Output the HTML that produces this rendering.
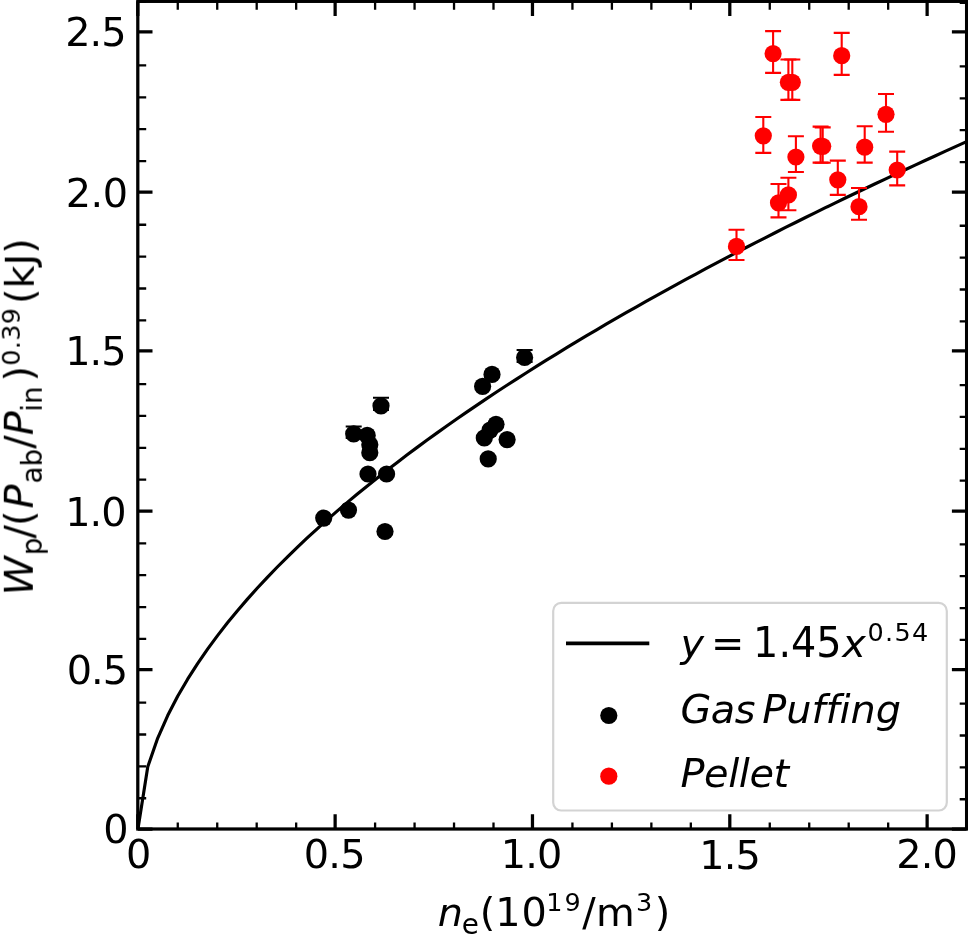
<!DOCTYPE html>
<html lang="en"><head><meta charset="utf-8"><title>Wp scaling vs density</title>
<style>
html,body{margin:0;padding:0;background:#fff;}
body{width:968px;height:934px;overflow:hidden;}
svg{display:block;}
text{font-family:"DejaVu Sans","Liberation Sans",sans-serif;font-size:39.8px;fill:#000;}
.it{font-style:italic;}
text{font-variant-ligatures:none;font-feature-settings:"liga" 0,"clig" 0;white-space:pre;}
</style></head><body>
<svg width="968" height="934" viewBox="0 0 968 934">
<defs><filter id="soft" x="-2%" y="-2%" width="104%" height="104%"><feGaussianBlur stdDeviation="0.6"/></filter></defs>
<rect x="0" y="0" width="968" height="934" fill="#fff"/>
<g filter="url(#soft)">
<clipPath id="axclip"><rect x="137.8" y="1.35" width="828.8" height="827.65"/></clipPath>
<g clip-path="url(#axclip)"><path d="M137.80,830.00 L147.77,766.76 L157.73,738.05 L167.70,715.54 L177.66,696.30 L187.63,679.18 L197.59,663.58 L207.56,649.13 L217.52,635.61 L227.49,622.84 L237.45,610.71 L247.42,599.13 L257.38,588.02 L267.35,577.33 L277.31,567.02 L287.28,557.04 L297.25,547.36 L307.21,537.95 L317.18,528.79 L327.14,519.87 L337.11,511.16 L347.07,502.65 L357.04,494.32 L367.00,486.17 L376.97,478.17 L386.93,470.33 L396.90,462.63 L406.86,455.07 L416.83,447.63 L426.79,440.32 L436.76,433.12 L446.73,426.03 L456.69,419.04 L466.66,412.16 L476.62,405.37 L486.59,398.67 L496.55,392.05 L506.52,385.53 L516.48,379.08 L526.45,372.71 L536.41,366.42 L546.38,360.19 L556.34,354.04 L566.31,347.95 L576.27,341.93 L586.24,335.97 L596.21,330.07 L606.17,324.23 L616.14,318.45 L626.10,312.72 L636.07,307.05 L646.03,301.43 L656.00,295.86 L665.96,290.33 L675.93,284.86 L685.89,279.43 L695.86,274.05 L705.82,268.71 L715.79,263.41 L725.75,258.16 L735.72,252.94 L745.69,247.77 L755.65,242.64 L765.62,237.54 L775.58,232.48 L785.55,227.46 L795.51,222.47 L805.48,217.51 L815.44,212.59 L825.41,207.71 L835.37,202.85 L845.34,198.03 L855.30,193.24 L865.27,188.48 L875.23,183.75 L885.20,179.05 L895.17,174.37 L905.13,169.73 L915.10,165.11 L925.06,160.52 L935.03,155.96 L944.99,151.42 L954.96,146.91 L964.92,142.43 L974.89,137.97 L984.85,133.53 L994.82,129.12 L1004.78,124.73" fill="none" stroke="#000" stroke-width="3.15" stroke-linejoin="round"/></g>
<g stroke="#000" stroke-width="2.1" fill="none">
<path d="M353.7,426.5V438.0M345.7,426.5H361.7M345.7,438.0H361.7"/>
<path d="M381.0,397.8V410.0M373.0,397.8H389.0M373.0,410.0H389.0"/>
<path d="M524.6,350.0V362.0M516.6,350.0H532.6M516.6,362.0H532.6"/>
</g>
<g fill="#000">
<circle cx="323.7" cy="518.1" r="8.6"/>
<circle cx="348.5" cy="510.1" r="8.6"/>
<circle cx="385.0" cy="531.5" r="8.6"/>
<circle cx="368.0" cy="474.0" r="8.6"/>
<circle cx="386.6" cy="474.0" r="8.6"/>
<circle cx="369.8" cy="452.7" r="8.6"/>
<circle cx="369.8" cy="444.7" r="8.6"/>
<circle cx="367.2" cy="435.4" r="8.6"/>
<circle cx="353.7" cy="433.8" r="8.6"/>
<circle cx="381.0" cy="405.8" r="8.6"/>
<circle cx="482.6" cy="386.3" r="8.6"/>
<circle cx="492.0" cy="374.4" r="8.6"/>
<circle cx="524.6" cy="357.5" r="8.6"/>
<circle cx="496.0" cy="424.3" r="8.6"/>
<circle cx="490.1" cy="430.1" r="8.6"/>
<circle cx="484.3" cy="437.9" r="8.6"/>
<circle cx="507.1" cy="439.6" r="8.6"/>
<circle cx="488.2" cy="458.9" r="8.6"/>
</g>
<g stroke="#ff0000" stroke-width="2.1" fill="none">
<path d="M736.5,229.8V260.0M728.5,229.8H744.5M728.5,260.0H744.5"/>
<path d="M778.5,184.0V217.4M770.5,184.0H786.5M770.5,217.4H786.5"/>
<path d="M788.4,177.8V210.2M780.4,177.8H796.4M780.4,210.2H796.4"/>
<path d="M763.3,117.0V152.9M755.3,117.0H771.3M755.3,152.9H771.3"/>
<path d="M795.9,136.2V172.0M787.9,136.2H803.9M787.9,172.0H803.9"/>
<path d="M773.1,31.1V72.9M765.1,31.1H781.1M765.1,72.9H781.1"/>
<path d="M788.4,59.5V99.9M780.4,59.5H796.4M780.4,99.9H796.4"/>
<path d="M792.3,59.5V99.9M784.3,59.5H800.3M784.3,99.9H800.3"/>
<path d="M841.7,32.9V74.9M833.7,32.9H849.7M833.7,74.9H849.7"/>
<path d="M820.6,126.6V162.6M812.6,126.6H828.6M812.6,162.6H828.6"/>
<path d="M822.7,127.4V162.8M814.7,127.4H830.7M814.7,162.8H830.7"/>
<path d="M837.8,160.6V194.9M829.8,160.6H845.8M829.8,194.9H845.8"/>
<path d="M864.7,126.2V162.6M856.7,126.2H872.7M856.7,162.6H872.7"/>
<path d="M886.0,94.0V131.8M878.0,94.0H894.0M878.0,131.8H894.0"/>
<path d="M897.2,151.6V185.4M889.2,151.6H905.2M889.2,185.4H905.2"/>
<path d="M859.0,188.0V219.8M851.0,188.0H867.0M851.0,219.8H867.0"/>
</g>
<g fill="#ff0000">
<circle cx="736.5" cy="246.4" r="8.6"/>
<circle cx="778.5" cy="202.8" r="8.6"/>
<circle cx="788.4" cy="194.9" r="8.6"/>
<circle cx="763.3" cy="135.8" r="8.6"/>
<circle cx="795.9" cy="157.0" r="8.6"/>
<circle cx="773.1" cy="53.7" r="8.6"/>
<circle cx="788.4" cy="82.3" r="8.6"/>
<circle cx="792.3" cy="82.3" r="8.6"/>
<circle cx="841.7" cy="55.7" r="8.6"/>
<circle cx="820.6" cy="146.1" r="8.6"/>
<circle cx="822.7" cy="146.3" r="8.6"/>
<circle cx="837.8" cy="179.8" r="8.6"/>
<circle cx="864.7" cy="147.2" r="8.6"/>
<circle cx="886.0" cy="114.3" r="8.6"/>
<circle cx="897.2" cy="170.0" r="8.6"/>
<circle cx="859.0" cy="206.7" r="8.6"/>
</g>
<g stroke="#000" fill="none">
<path stroke-width="3.25" d="M137.80,829.0v-14.7M137.80,1.35v14.7M335.13,829.0v-14.7M335.13,1.35v14.7M532.47,829.0v-14.7M532.47,1.35v14.7M729.80,829.0v-14.7M729.80,1.35v14.7M927.13,829.0v-14.7M927.13,1.35v14.7M137.8,829.00h14.7M966.6,829.00h-14.7M137.8,669.60h14.7M966.6,669.60h-14.7M137.8,511.00h14.7M966.6,511.00h-14.7M137.8,350.80h14.7M966.6,350.80h-14.7M137.8,192.20h14.7M966.6,192.20h-14.7M137.8,31.80h14.7M966.6,31.80h-14.7"/>
<path stroke-width="2.3" d="M177.77,829.0v-6.4M177.77,1.35v8.4M217.23,829.0v-6.4M217.23,1.35v8.4M256.70,829.0v-6.4M256.70,1.35v8.4M296.17,829.0v-6.4M296.17,1.35v8.4M375.10,829.0v-6.4M375.10,1.35v8.4M414.57,829.0v-6.4M414.57,1.35v8.4M454.03,829.0v-6.4M454.03,1.35v8.4M493.50,829.0v-6.4M493.50,1.35v8.4M572.43,829.0v-6.4M572.43,1.35v8.4M611.90,829.0v-6.4M611.90,1.35v8.4M651.37,829.0v-6.4M651.37,1.35v8.4M690.83,829.0v-6.4M690.83,1.35v8.4M769.77,829.0v-6.4M769.77,1.35v8.4M809.23,829.0v-6.4M809.23,1.35v8.4M848.70,829.0v-6.4M848.70,1.35v8.4M888.17,829.0v-6.4M888.17,1.35v8.4M967.10,829.0v-6.4M967.10,1.35v8.4M137.8,798.24h8.4M966.6,799.24h-6.9M137.8,766.38h8.4M966.6,767.38h-6.9M137.8,734.52h8.4M966.6,735.52h-6.9M137.8,702.66h8.4M966.6,703.66h-6.9M137.8,638.94h8.4M966.6,639.94h-6.9M137.8,607.08h8.4M966.6,608.08h-6.9M137.8,575.22h8.4M966.6,576.22h-6.9M137.8,543.36h8.4M966.6,544.36h-6.9M137.8,479.64h8.4M966.6,480.64h-6.9M137.8,447.78h8.4M966.6,448.78h-6.9M137.8,415.92h8.4M966.6,416.92h-6.9M137.8,384.06h8.4M966.6,385.06h-6.9M137.8,320.34h8.4M966.6,321.34h-6.9M137.8,288.48h8.4M966.6,289.48h-6.9M137.8,256.62h8.4M966.6,257.62h-6.9M137.8,224.76h8.4M966.6,225.76h-6.9M137.8,161.04h8.4M966.6,162.04h-6.9M137.8,129.18h8.4M966.6,130.18h-6.9M137.8,97.32h8.4M966.6,98.32h-6.9M137.8,65.46h8.4M966.6,66.46h-6.9M137.8,1.74h8.4M966.6,2.74h-6.9"/>
<rect x="137.8" y="1.35" width="828.8" height="827.65" stroke-width="3.25"/>
</g>
<text x="138.7" y="868.3" text-anchor="middle" letter-spacing="0">0</text>
<text x="334.3" y="868.3" text-anchor="middle" letter-spacing="-0.8">0.5</text>
<text x="531.2" y="868.3" text-anchor="middle" letter-spacing="-0.8">1.0</text>
<text x="729.6" y="868.6" text-anchor="middle" letter-spacing="-0.8">1.5</text>
<text x="926.6" y="868.4" text-anchor="middle" letter-spacing="-0.8">2.0</text>
<text x="128.50" y="842.7" text-anchor="end" letter-spacing="0">0</text>
<text x="127.30" y="684.1" text-anchor="end" letter-spacing="-0.9">0.5</text>
<text x="125.50" y="525.5" text-anchor="end" letter-spacing="-1.0">1.0</text>
<text x="125.80" y="365.3" text-anchor="end" letter-spacing="-0.9">1.5</text>
<text x="127.45" y="206.7" text-anchor="end" letter-spacing="-0.55">2.0</text>
<text x="125.80" y="46.3" text-anchor="end" letter-spacing="-0.9">2.5</text>
<text x="437.7" y="925.8"><tspan class="it">n</tspan><tspan font-size="27.86" dx="-1.2" dy="8.1">e</tspan><tspan dy="-8.1" dx="0.9">(</tspan><tspan dx="0" letter-spacing="1">10</tspan><tspan font-size="25.47" dx="-1.6" dy="-14.9" letter-spacing="1.9">19</tspan><tspan dy="14.9" dx="-0.2">/</tspan><tspan dx="0.2">m</tspan><tspan font-size="25.47" dy="-14.9" dx="1.3">3</tspan><tspan dy="14.9" dx="2.5">)</tspan></text>
<text transform="translate(32.8,595.5) rotate(-90)" x="0" y="0"><tspan class="it">W</tspan><tspan font-size="27.86" dx="1" dy="8.7">p</tspan><tspan dy="-8.7" dx="-1">/</tspan><tspan dx="-1">(</tspan><tspan class="it" dx="2">P</tspan><tspan font-size="27.86" dx="1" dy="8.7">ab</tspan><tspan dy="-8.7">/</tspan><tspan class="it">P</tspan><tspan font-size="27.86" dx="-0.5" dy="8.7">in</tspan><tspan dy="-8.7" dx="5">)</tspan><tspan font-size="25.47" dx="0" dy="-13.3" letter-spacing="0.4">0.39</tspan><tspan dy="14.100000000000001" dx="3.5">(kJ)</tspan></text>
<rect x="553.2" y="602.9" width="393.6" height="207.6" rx="8" ry="8" fill="#fff" fill-opacity="0.8" stroke="#d3d3d3" stroke-width="2.2"/>
<path d="M566,643.4H649.3" stroke="#000" stroke-width="3.6" fill="none"/>
<circle cx="608.8" cy="715.5" r="8.6" fill="#000"/>
<circle cx="608.8" cy="776.2" r="8.6" fill="#ff0000"/>
<text y="656.5"><tspan class="it" x="680.5">y</tspan><tspan x="711.1">=</tspan><tspan class="it" x="842.3">x</tspan><tspan font-size="25.47" x="867.6" dy="-15.2" letter-spacing="1.3">0.54</tspan></text>
<text transform="translate(753.1,656.9) scale(1,1.055)" x="0" y="0">1.45</text>
<text x="680.5" y="722.5" class="it"><tspan letter-spacing="-0.5">Gas</tspan><tspan dx="7.2">Puffing</tspan></text>
<text x="680.5" y="786.5" class="it" letter-spacing="-0.4">Pellet</text>
</g></svg></body></html>
